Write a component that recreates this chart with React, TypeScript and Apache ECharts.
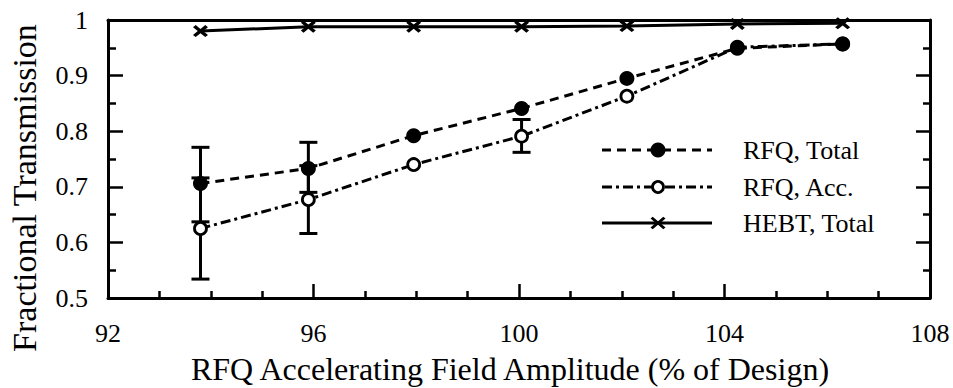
import React, { useEffect, useRef } from "react";
import * as echarts from "echarts";

// Data
const amplitude = [93.8, 95.9, 97.95, 100.05, 102.1, 104.25, 106.3];
const rfqTotal = [0.706, 0.733, 0.792, 0.841, 0.895, 0.949, 0.957];
const rfqAcc = [0.625, 0.677, 0.74, 0.791, 0.863, 0.951, 0.957];
const hebtTotal = [0.98, 0.988, 0.988, 0.988, 0.989, 0.993, 0.994];

// error bars: [x, low, high]
const rfqTotalErr = [
  [93.8, 0.637, 0.771],
  [95.9, 0.69, 0.78],
];
const rfqAccErr = [
  [93.8, 0.534, 0.716],
  [95.9, 0.616, 0.738],
  [100.05, 0.762, 0.821],
];

const xTicks = [92, 96, 100, 104, 108];
const yTicks = [0.5, 0.6, 0.7, 0.8, 0.9, 1];

const legendNames = ["RFQ, Total", "RFQ, Acc.", "HEBT, Total"];
const xTitle = "RFQ Accelerating Field Amplitude (% of Design)";
const yTitle = "Fractional Transmission";

const FONT = "'Liberation Serif', 'Times New Roman', Times, serif";
const X_PATH =
  "path://M0,1.8L1.8,0L5,3.2L8.2,0L10,1.8L6.8,5L10,8.2L8.2,10L5,6.8L1.8,10L0,8.2L3.2,5Z";

const TOTAL_DASH = [9, 6];
const ACC_DASH = [10, 4, 3, 4];
const LW = 3;

function errorRender(params: any, api: any) {
  const x = api.value(0);
  const lo = api.coord([x, api.value(1)]);
  const hi = api.coord([x, api.value(2)]);
  const hw = 9;
  const st = { stroke: "#000", lineWidth: LW };
  return {
    type: "group",
    children: [
      { type: "line", shape: { x1: lo[0], y1: lo[1], x2: hi[0], y2: hi[1] }, style: st },
      { type: "line", shape: { x1: lo[0] - hw, y1: lo[1], x2: lo[0] + hw, y2: lo[1] }, style: st },
      { type: "line", shape: { x1: hi[0] - hw, y1: hi[1], x2: hi[0] + hw, y2: hi[1] }, style: st },
    ],
  };
}

export default function App() {
  const ref = useRef<HTMLDivElement>(null);
  useEffect(() => {
    if (!ref.current) return;
    document.body.style.margin = "0";
    const chart = echarts.init(ref.current, null, { renderer: "svg" });
    const axisLine = { show: true, lineStyle: { color: "#000", width: 3 } };
    const labelStyle = { color: "#000", fontSize: 26, fontFamily: FONT };

    const legendRows = [150, 187, 223];
    const lx1 = 602;
    const lx2 = 712;
    const lmid = 658;
    const graphic: any[] = [
      {
        type: "text",
        x: 510,
        y: 369,
        style: { text: xTitle, font: `32px ${FONT}`, fill: "#000", textAlign: "center", textVerticalAlign: "middle" },
      },
      {
        type: "text",
        x: 24,
        y: 188,
        rotation: Math.PI / 2,
        style: { text: yTitle, font: `34px ${FONT}`, fill: "#000", textAlign: "center", textVerticalAlign: "middle" },
      },
      // legend
      { type: "line", shape: { x1: lx1, y1: legendRows[0], x2: lx2, y2: legendRows[0] }, style: { stroke: "#000", lineWidth: LW, lineDash: TOTAL_DASH } },
      { type: "circle", shape: { cx: lmid, cy: legendRows[0], r: 7.5 }, style: { fill: "#000" } },
      { type: "line", shape: { x1: lx1, y1: legendRows[1], x2: lx2, y2: legendRows[1] }, style: { stroke: "#000", lineWidth: LW, lineDash: ACC_DASH } },
      { type: "circle", shape: { cx: lmid, cy: legendRows[1], r: 5.5 }, style: { fill: "#fff", stroke: "#000", lineWidth: 2.8 } },
      { type: "line", shape: { x1: lx1, y1: legendRows[2], x2: lx2, y2: legendRows[2] }, style: { stroke: "#000", lineWidth: LW } },
      { type: "polygon", shape: { points: [[-7.5, -4.5], [-5.3, -6.2], [0, -1.8], [5.3, -6.2], [7.5, -4.5], [2.3, 0], [7.5, 4.5], [5.3, 6.2], [0, 1.8], [-5.3, 6.2], [-7.5, 4.5], [-2.3, 0]] }, x: lmid, y: legendRows[2], style: { fill: "#000" } },
    ];
    legendNames.forEach((n, i) => {
      graphic.push({
        type: "text",
        x: 743,
        y: legendRows[i],
        style: { text: n, font: `26px ${FONT}`, fill: "#000", textAlign: "left", textVerticalAlign: "middle" },
      });
    });

    chart.setOption({
      animation: false,
      backgroundColor: "#fff",
      grid: { left: 108, right: 23, top: 20, bottom: 90 },
      xAxis: [
        {
          type: "value",
          min: xTicks[0],
          max: xTicks[xTicks.length - 1],
          interval: 4,
          axisLine,
          axisTick: { show: true, inside: true, length: 14, lineStyle: { color: "#000", width: 2.5 } },
          minorTick: { show: true, splitNumber: 4, length: 7, lineStyle: { color: "#000", width: 2.5 } },
          splitLine: { show: false },
          axisLabel: { ...labelStyle, margin: 22, formatter: (v: number) => String(v) },
        },
        {
          type: "value",
          position: "top",
          min: xTicks[0],
          max: xTicks[xTicks.length - 1],
          interval: 4,
          axisLine,
          axisTick: { show: false },
          splitLine: { show: false },
          axisLabel: { show: false },
        },
      ],
      yAxis: [
        {
          type: "value",
          min: yTicks[0],
          max: yTicks[yTicks.length - 1],
          interval: 0.1,
          axisLine,
          axisTick: { show: true, inside: true, length: 15, lineStyle: { color: "#000", width: 2.5 } },
          minorTick: { show: true, splitNumber: 2, length: 8, lineStyle: { color: "#000", width: 2.5 } },
          splitLine: { show: false },
          axisLabel: { ...labelStyle, margin: 20, formatter: (v: number) => String(Math.round(v * 10) / 10) },
        },
        {
          type: "value",
          position: "right",
          min: yTicks[0],
          max: yTicks[yTicks.length - 1],
          interval: 0.1,
          axisLine,
          axisTick: { show: true, inside: true, length: 14, lineStyle: { color: "#000", width: 2.5 } },
          minorTick: { show: true, splitNumber: 2, length: 7, lineStyle: { color: "#000", width: 2.5 } },
          splitLine: { show: false },
          axisLabel: { show: false },
        },
      ],
      graphic,
      series: [
        {
          type: "custom",
          name: "errAcc",
          z: 1,
          renderItem: errorRender,
          encode: { x: 0, y: [1, 2] },
          data: rfqAccErr,
          silent: true,
        },
        {
          type: "custom",
          name: "errTotal",
          z: 1,
          renderItem: errorRender,
          encode: { x: 0, y: [1, 2] },
          data: rfqTotalErr,
          silent: true,
        },
        {
          type: "line",
          name: legendNames[2],
          data: amplitude.map((x, i) => [x, hebtTotal[i]]),
          symbol: X_PATH,
          symbolSize: [15, 12],
          itemStyle: { color: "#000" },
          lineStyle: { color: "#000", width: LW },
          z: 3,
        },
        {
          type: "line",
          name: legendNames[1],
          data: amplitude.map((x, i) => [x, rfqAcc[i]]),
          symbol: "circle",
          symbolSize: 12,
          itemStyle: { color: "#fff", borderColor: "#000", borderWidth: 2.8 },
          lineStyle: { color: "#000", width: LW, type: ACC_DASH },
          z: 2,
        },
        {
          type: "line",
          name: legendNames[0],
          data: amplitude.map((x, i) => [x, rfqTotal[i]]),
          symbol: "circle",
          symbolSize: 15,
          itemStyle: { color: "#000" },
          lineStyle: { color: "#000", width: LW, type: TOTAL_DASH },
          z: 2,
        },
      ],
    });
    return () => chart.dispose();
  }, []);
  return <div ref={ref} style={{ width: 953, height: 388 }} />;
}
